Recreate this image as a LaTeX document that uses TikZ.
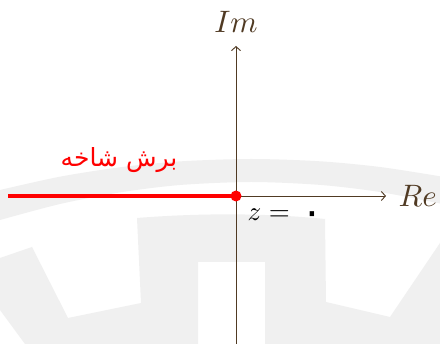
\documentclass[tikz,border=0pt]{standalone}
\usepackage{fontspec}
\usetikzlibrary{arrows.meta}
\TeXXeTstate=1
\newfontfamily\arabicfont[Script=Arabic]{DejaVu Sans}
\definecolor{axisbrown}{RGB}{80,58,35}
\definecolor{wm}{RGB}{240,240,240}
\definecolor{cutred}{RGB}{255,0,0}
\tikzset{
  axisline/.style={draw=axisbrown, line width=0.9pt, -{Straight Barb[length=4pt,width=9pt]}},
  axislabel/.style={text=axisbrown, inner sep=0pt, scale=3.1},
  cutline/.style={draw=cutred, line width=4.5pt},
  branchpt/.style={circle, fill=cutred, inner sep=0pt, minimum size=11pt},
  cutlabel/.style={text=cutred, inner sep=0pt, font=\arabicfont\fontsize{25}{30}\selectfont},
  zlabel/.style={text=black, inner sep=0pt, scale=2.7},
  watermark/.style={fill=wm}
}
\begin{document}
\begin{tikzpicture}[x=1pt, y=-1pt]
\useasboundingbox (0,0) rectangle (440,344);
\fill[white] (0,0) rectangle (440,344);
% watermark
\path[watermark] plot[smooth] coordinates {(0,190) (60,176.7) (120,167.3) (180,161.4) (251,159) (320,161.3) (380,167) (440,176.3)}
  -- plot[smooth] coordinates {(440,203.5) (380,192) (320,184.9) (251,182) (180,185) (120,192.4) (60,204) (0,220)} -- cycle;
\path[watermark] (0,258) -- (32,247) -- (68,318) -- (141,303) -- (137,218)
  .. controls (200,213) and (265,213) .. (325,219) -- (326,302) -- (390,317) -- (440,243)
  -- (440,344) -- (265,344) -- (265,262) -- (198,262) -- (198,344) -- (25,344) -- (0,310) -- cycle;
% coordinates
\coordinate (O) at (236,196);
\coordinate (xend) at (386,196);
\coordinate (ytop) at (236,46);
\coordinate (ybot) at (236,344);
\coordinate (cutstart) at (8,196);
% axes
\draw[axisline] (O) -- (xend);
\draw[axisline] (ybot) -- (ytop);
% branch cut
\draw[cutline] (cutstart) -- (O);
\node[branchpt] (bp) at (O) {};
% labels
\node[axislabel, anchor=base] (im) at (236,33) {$Im$};
\node[axislabel, anchor=base west] (re) at (398,207) {$Re$};
\node[cutlabel] (cut) at (119,160) {\beginR برش شاخه\endR};
\node[zlabel, anchor=base west] (z0) at (247,221) {$z={}$\,\raisebox{-1.5pt}{\arabicfont\fontsize{15}{15}\selectfont ۰}};
\end{tikzpicture}
\end{document}
